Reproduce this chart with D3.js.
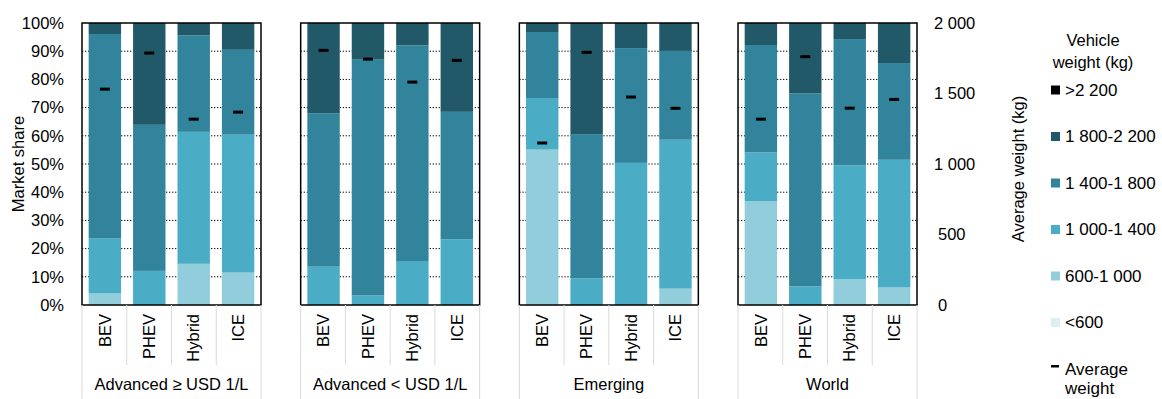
<!DOCTYPE html>
<html><head><meta charset="utf-8">
<script src="https://cdn.jsdelivr.net/npm/d3@7"></script>
<style>body{margin:0;background:#fff}svg{display:block;font-family:"Liberation Sans",Arial,sans-serif}</style>
</head><body><svg id="c" width="1162" height="399"></svg>
<script>
const groups = ["Advanced \u2265 USD 1/L", "Advanced < USD 1/L", "Emerging", "World"];
const categories = ["BEV", "PHEV", "Hybrid", "ICE"];
const classes = ["<600", "600-1 000", "1 000-1 400", "1 400-1 800", "1 800-2 200", ">2 200"];
const colors = ["#daeef3", "#92cddc", "#4bacc6", "#31849b", "#215968", "#000000"];
// shares (%) per class, 16 bars: groups x categories
const s_lt600   = [0,0,0,0,      0,0,0,0,       0,0,0,0,        0,0,0,0];
const s_600     = [4.1,0,14.6,11.5, 0,0,0,0,   55.1,0,0,5.8,   36.8,0,9.1,6.2];
const s_1000    = [19.6,12.1,46.8,48.9, 13.6,3.4,15.6,23.3, 18.3,9.5,50.4,52.8, 17.3,6.6,40.4,45.3];
const s_1400    = [72.4,51.8,34.2,30.1, 54.4,83.6,76.5,45.2, 23.4,51.1,40.7,31.5, 38.1,68.4,44.8,34.3];
const s_1800    = [3.9,36.1,4.4,9.5, 32.0,13.0,7.9,31.5, 3.2,39.4,8.9,9.9, 7.8,25.0,5.7,14.2];
const s_gt2200  = [0,0,0,0,      0,0,0,0,       0,0,0,0,        0,0,0,0];
const avgWeight = [1531,1787,1318,1368, 1806,1744,1581,1735, 1149,1792,1475,1395, 1318,1761,1396,1458];
const leftTicks = [0,10,20,30,40,50,60,70,80,90,100];
const rightTicks = [0,500,1000,1500,2000];

const FS = 16.5, LFS = 17;
const svg = d3.select("#c");
const yTop = 23, yBot = 305;
const yL = d3.scaleLinear().domain([0,100]).range([yBot, yTop]);
const yR = d3.scaleLinear().domain([0,2000]).range([yBot, yTop]);
const gx = d3.scaleBand().domain(groups).range([82, 917]).paddingInner(0.1815).paddingOuter(0);
const seriesArr = [s_lt600, s_600, s_1000, s_1400, s_1800, s_gt2200];
const fmt = v => v >= 1000 ? d3.format(",")(v).replace(",", " ") : String(v);

svg.append("g").selectAll("text").data(leftTicks).join("text")
  .attr("x", 64).attr("y", d => yL(d)).attr("dy", "0.35em")
  .attr("text-anchor", "end").attr("font-size", FS).attr("fill", "#000")
  .text(d => d + "%");
svg.append("text").attr("transform", `translate(18,${(yTop+yBot)/2}) rotate(-90)`)
  .attr("text-anchor", "middle").attr("dy", "0.35em").attr("font-size", FS).text("Market share");

svg.append("g").selectAll("text").data(rightTicks).join("text")
  .attr("x", d => d >= 1000 ? 934 : 938).attr("y", d => yR(d)).attr("dy", "0.35em")
  .attr("font-size", FS).text(d => fmt(d));
svg.append("text").attr("transform", `translate(1018,169) rotate(-90)`)
  .attr("text-anchor", "middle").attr("dy", "0.35em").attr("font-size", FS).text("Average weight (kg)");

groups.forEach((g, gi) => {
  const x0 = gx(g), w = gx.bandwidth();
  const xb = d3.scaleBand().domain(categories).range([x0, x0 + w]).paddingInner(0.27).paddingOuter(0.15);
  const pg = svg.append("g");
  pg.selectAll("line.grid").data(leftTicks.slice(1, -1)).join("line")
    .attr("x1", x0).attr("x2", x0 + w).attr("y1", d => yL(d)).attr("y2", d => yL(d))
    .attr("stroke", "#000").attr("stroke-width", 1).attr("stroke-dasharray", "1.3,1.7");
  categories.forEach((c, ci) => {
    const idx = gi * 4 + ci;
    let cum = 0;
    seriesArr.forEach((arr, si) => {
      const v = arr[idx];
      if (v > 0) {
        pg.append("rect").attr("x", xb(c)).attr("width", xb.bandwidth())
          .attr("y", yL(cum + v)).attr("height", yL(cum) - yL(cum + v))
          .attr("fill", colors[si]);
      }
      cum += v;
    });
    pg.append("rect").attr("x", xb(c) + xb.bandwidth()/2 - 5).attr("width", 10)
      .attr("y", yR(avgWeight[idx]) - 1.5).attr("height", 3).attr("fill", "#000");
    pg.append("text").attr("transform", `translate(${xb(c) + xb.bandwidth()/2},314) rotate(-90)`)
      .attr("text-anchor", "end").attr("dy", "0.35em").attr("font-size", FS).text(c);
  });
  pg.append("rect").attr("x", x0).attr("y", yTop).attr("width", w).attr("height", yBot - yTop)
    .attr("fill", "none").attr("stroke", "#000").attr("stroke-width", 1.5);
  const step = w / 4;
  [1,2,3].forEach(k => pg.append("line").attr("x1", x0 + k*step).attr("x2", x0 + k*step)
    .attr("y1", yBot).attr("y2", 365).attr("stroke", "#d9d9d9").attr("stroke-width", 1));
  [0,4].forEach(k => pg.append("line").attr("x1", x0 + k*step).attr("x2", x0 + k*step)
    .attr("y1", yBot).attr("y2", 399).attr("stroke", "#d9d9d9").attr("stroke-width", 1));
  pg.append("text").attr("x", x0 + w/2).attr("y", 390).attr("text-anchor", "middle")
    .attr("font-size", FS).text(g);
});

const lg = svg.append("g");
lg.append("text").attr("x", 1093).attr("y", 40).attr("dy", "0.35em").attr("text-anchor", "middle").attr("font-size", FS).text("Vehicle");
lg.append("text").attr("x", 1093).attr("y", 62).attr("dy", "0.35em").attr("text-anchor", "middle").attr("font-size", FS).text("weight (kg)");
const legOrder = [5,4,3,2,1,0];
const legY = d3.scaleLinear().domain([0,6]).range([90, 369]);
legOrder.forEach((si, i) => {
  lg.append("rect").attr("x", 1051).attr("y", legY(i) - 4.5).attr("width", 9).attr("height", 9).attr("fill", colors[si]);
  lg.append("text").attr("x", 1065).attr("y", legY(i)).attr("dy", "0.35em").attr("font-size", LFS).text(classes[si]);
});
lg.append("rect").attr("x", 1051).attr("y", legY(6) - 4).attr("width", 8).attr("height", 2.5).attr("fill", "#000");
lg.append("text").attr("x", 1065).attr("y", legY(6)).attr("dy", "0.35em").attr("font-size", LFS).text("Average");
lg.append("text").attr("x", 1065).attr("y", legY(6) + 19).attr("dy", "0.35em").attr("font-size", LFS).text("weight");
</script></body></html>
